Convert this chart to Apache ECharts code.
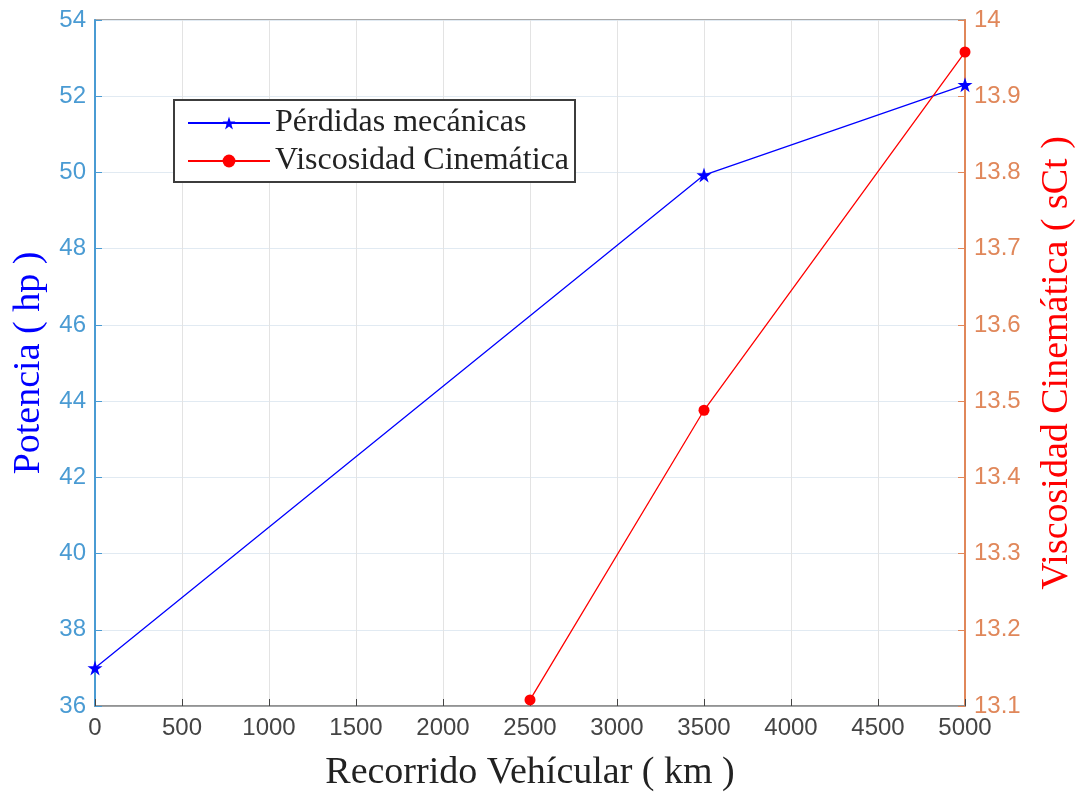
<!DOCTYPE html>
<html>
<head>
<meta charset="utf-8">
<script src="https://cdn.jsdelivr.net/npm/echarts@6/dist/echarts.min.js"></script>
<style>
  html, body { margin: 0; padding: 0; background: #fff; }
  #chart { width: 1080px; height: 792px; }
</style>
</head>
<body>
<div id="chart"></div>
<script>
// Distance travelled (km) and the measurements taken at each point
const recorridoKm = [0, 3500, 5000];
const perdidasHp = [37.0, 49.93, 52.3];
const viscosidadKm = [2500, 3500, 5000];
const viscosidadSct = [13.108, 13.488, 13.958];

const xTicks = { min: 0, max: 5000, interval: 500 };
const leftTicks = { min: 36, max: 54, interval: 2 };
const rightTicks = { min: 13.1, max: 14, interval: 0.1 };

const STAR = 'path://M50,0 L61.8,35.5 L100,35.5 L69.1,57.4 L80.9,92.7 L50,70.8 L19.1,92.7 L30.9,57.4 L0,35.5 L38.2,35.5 Z';

const sansFont = '"Liberation Sans", Arial, sans-serif';
const serifFont = '"Liberation Serif", "Times New Roman", serif';
const leftColor = '#4a9bd3';
const rightColor = '#e0875a';

const chart = echarts.init(document.getElementById('chart'), null, { renderer: 'canvas' });

chart.setOption({
  backgroundColor: '#ffffff',
  animation: false,
  grid: {
    left: 95, right: 115, top: 20, bottom: 86,
    outerBoundsMode: 'none',
    containLabel: false,
    show: true, borderColor: '#8c8c8c', borderWidth: 1.5, backgroundColor: '#ffffff'
  },
  legend: {
    left: 174, top: 100,
    orient: 'vertical',
    padding: [7, 6, 5, 13],
    itemGap: 6,
    itemWidth: 82,
    itemHeight: 16,
    borderColor: '#3c3c3c',
    borderWidth: 2,
    borderRadius: 0,
    backgroundColor: '#ffffff',
    textStyle: { fontFamily: serifFont, fontSize: 32, color: '#222' },
    data: ['Pérdidas mecánicas', 'Viscosidad Cinemática']
  },
  xAxis: {
    type: 'value',
    min: xTicks.min, max: xTicks.max, interval: xTicks.interval,
    name: 'Recorrido Vehícular ( km )',
    nameLocation: 'middle',
    nameGap: 48,
    nameTextStyle: { fontFamily: serifFont, fontSize: 38, color: '#222' },
    axisLine: { lineStyle: { color: '#8c8c8c', width: 1.5 } },
    axisTick: { inside: true, length: 7, lineStyle: { color: '#444' } },
    axisLabel: {
      fontFamily: sansFont, fontSize: 24, color: '#444', margin: 10,
      formatter: v => String(v)
    },
    splitLine: { show: true, lineStyle: { color: '#e3e3e3', width: 1 } }
  },
  yAxis: [
    {
      type: 'value', position: 'left',
      min: leftTicks.min, max: leftTicks.max, interval: leftTicks.interval,
      name: 'Potencia ( hp )',
      nameLocation: 'middle',
      nameGap: 46,
      nameTextStyle: { fontFamily: serifFont, fontSize: 38, color: '#0000ff' },
      axisLine: { show: true, lineStyle: { color: leftColor, width: 2 } },
      axisTick: { show: true, inside: true, length: 7, lineStyle: { color: leftColor } },
      axisLabel: { fontFamily: sansFont, fontSize: 24, color: leftColor, margin: 9 },
      splitLine: { show: true, lineStyle: { color: '#e1eaf2', width: 1 } }
    },
    {
      type: 'value', position: 'right',
      min: rightTicks.min, max: rightTicks.max, interval: rightTicks.interval,
      name: 'Viscosidad Cinemática ( sCt )',
      nameLocation: 'middle',
      nameGap: 73,
      nameRotate: 90,
      nameTextStyle: { fontFamily: serifFont, fontSize: 38, color: '#ff0000' },
      axisLine: { show: true, lineStyle: { color: rightColor, width: 2 } },
      axisTick: { show: true, inside: true, length: 7, lineStyle: { color: rightColor } },
      axisLabel: {
        fontFamily: sansFont, fontSize: 24, color: rightColor, margin: 9,
        formatter: v => String(parseFloat(v.toFixed(1)))
      },
      splitLine: { show: false }
    }
  ],
  series: [
    {
      name: 'Pérdidas mecánicas',
      type: 'line',
      yAxisIndex: 0,
      data: recorridoKm.map((x, i) => [x, perdidasHp[i]]),
      symbol: STAR,
      symbolSize: 15,
      lineStyle: { color: '#0000ff', width: 1.3 },
      itemStyle: { color: '#0000ff' },
      z: 3
    },
    {
      name: 'Viscosidad Cinemática',
      type: 'line',
      yAxisIndex: 1,
      data: viscosidadKm.map((x, i) => [x, viscosidadSct[i]]),
      symbol: 'circle',
      symbolSize: 11,
      lineStyle: { color: '#ff0000', width: 1.3 },
      itemStyle: { color: '#ff0000' },
      z: 3
    }
  ]
});
</script>
</body>
</html>
